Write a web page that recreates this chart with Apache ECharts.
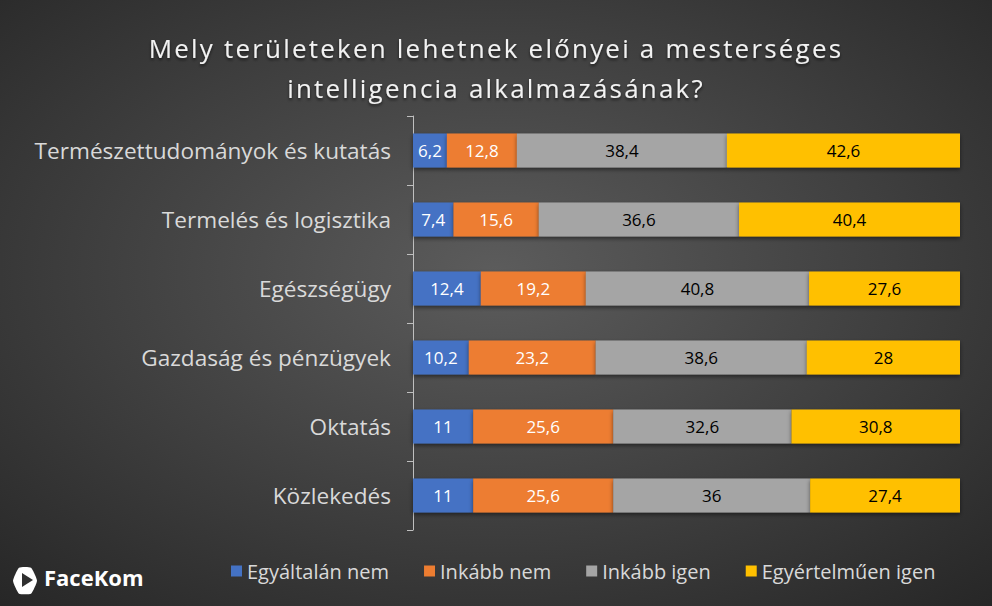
<!DOCTYPE html>
<html>
<head>
<meta charset="utf-8">
<script src="https://cdn.jsdelivr.net/npm/echarts@6/dist/echarts.min.js"></script>
<style>
  html, body { margin: 0; padding: 0; }
  #chart { width: 992px; height: 606px; }
</style>
</head>
<body>
<div id="chart"></div>
<script>
// data
var categories = ['Természettudományok és kutatás', 'Termelés és logisztika', 'Egészségügy',
    'Gazdaság és pénzügyek', 'Oktatás', 'Közlekedés'];
var seriesNames = ['Egyáltalán nem', 'Inkább nem', 'Inkább igen', 'Egyértelműen igen'];
var egyaltalanNem = [6.2, 7.4, 12.4, 10.2, 11, 11];
var inkabbNem = [12.8, 15.6, 19.2, 23.2, 25.6, 25.6];
var inkabbIgen = [38.4, 36.6, 40.8, 38.6, 32.6, 36];
var egyertelmuenIgen = [42.6, 40.4, 27.6, 28, 30.8, 27.4];

var colors = ['#4472C4', '#ED7D31', '#A5A5A5', '#FFC000'];
var labelColors = ['#ffffff', '#ffffff', '#000000', '#000000'];
var font = '"Open Sans", Lato, sans-serif';

var chart = echarts.init(document.getElementById('chart'), null, { renderer: 'svg' });

function makeSeries(i, values) {
    return {
        name: seriesNames[i],
        type: 'bar',
        stack: 'total',
        barWidth: 34,
        data: values,
        itemStyle: {
            color: colors[i],
            shadowColor: 'rgba(0,0,0,0.5)',
            shadowBlur: 4,
            shadowOffsetY: 2
        },
        label: {
            show: true,
            position: 'inside',
            color: labelColors[i],
            fontFamily: font,
            fontSize: 17,
            formatter: function (p) { return String(p.value).replace('.', ','); }
        }
    };
}

chart.setOption({
    animation: false,
    backgroundColor: {
        type: 'radial', x: 0.5, y: 0.45, r: 0.75,
        colorStops: [{ offset: 0, color: '#5c5c5c' }, { offset: 1, color: '#262626' }]
    },
    color: colors,
    title: {
        text: 'Mely területeken lehetnek előnyei a mesterséges\nintelligencia alkalmazásának?',
        left: 'center',
        top: 23,
        textStyle: {
            color: '#f2f2f2', fontFamily: font, fontWeight: 'normal', fontSize: 26, lineHeight: 40,
            textShadowColor: 'rgba(0,0,0,0.6)', textShadowBlur: 3, textShadowOffsetY: 2
        }
    },
    legend: {
        bottom: 20,
        left: 226,
        itemWidth: 11,
        itemHeight: 11,
        itemGap: 35,
        icon: 'rect',
        textStyle: { color: '#d9d9d9', fontFamily: font, fontSize: 20 },
        data: seriesNames
    },
    grid: { left: 413, right: 32, top: 116, bottom: 76 },
    xAxis: { type: 'value', min: 0, max: 100, show: false },
    yAxis: {
        type: 'category',
        data: categories,
        inverse: true,
        axisLine: { show: true, lineStyle: { color: '#bfbfbf', width: 1 } },
        axisTick: { show: true, length: 6, lineStyle: { color: '#bfbfbf' } },
        axisLabel: { color: '#d9d9d9', fontFamily: font, fontSize: 22.6, margin: 22 }
    },
    graphic: [
        {
            type: 'polygon', left: 13, top: 567,
            shape: { points: [[6, 0], [18, 0], [24, 13], [18, 26], [6, 26], [0, 13]], smooth: 0.15 },
            style: { fill: '#ffffff' }
        },
        {
            type: 'polygon', left: 22, top: 573,
            shape: { points: [[0, 0], [11, 7], [0, 14]] },
            style: { fill: '#303030' }
        },
        {
            type: 'text', left: 44, top: 566,
            style: { text: 'FaceKom', fill: '#ffffff', fontFamily: font, fontWeight: 'bold', fontSize: 22 }
        }
    ],
    series: [
        makeSeries(0, egyaltalanNem),
        makeSeries(1, inkabbNem),
        makeSeries(2, inkabbIgen),
        makeSeries(3, egyertelmuenIgen)
    ]
});

// the title in the picture is letter-spaced; the svg text takes that from css
var texts = document.querySelectorAll('#chart text');
for (var i = 0; i < texts.length; i++) {
    var t = texts[i].textContent;
    if (t.indexOf('Mely ') === 0 || t.indexOf('intelligencia') === 0) {
        texts[i].style.letterSpacing = '2.2px';
    }
}
</script>
</body>
</html>
